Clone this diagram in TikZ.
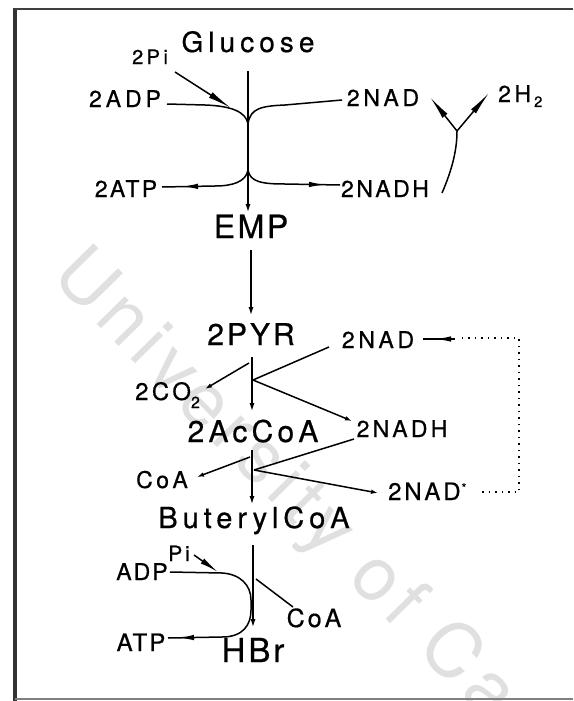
\documentclass[tikz,border=0pt]{standalone}
\usepackage{fontspec}
\setmainfont{TeX Gyre Heros}
\usetikzlibrary{arrows.meta,decorations.markings}
\newcommand\mylab[3]{\fontsize{#1}{#1}\selectfont\addfontfeature{LetterSpace=#2,FakeBold=0.6}#3}
\begin{document}
\begin{tikzpicture}[x=1pt,y=-1pt,
  lbl/.style={inner sep=0pt,anchor=base},
  lblw/.style={inner sep=0pt,anchor=base west},
  mainline/.style={line width=2.3pt,-{Latex[length=9pt,width=5pt]}},
  side/.style={line width=1.5pt},
  sidearrow/.style={line width=1.5pt,-{Latex[length=7pt,width=4.5pt]}},
  longarrow/.style={line width=1.5pt,-{Latex[length=24pt,width=6.5pt]}},
  shortlong/.style={line width=1.5pt,-{Latex[length=19pt,width=6pt]}},
  arrowat/.style={postaction={decorate},decoration={markings,mark=at position #1 with {\arrow{Latex[length=16pt,width=5.5pt]}}}},
  dotline/.style={line width=1.5pt,dash pattern=on 1.5pt off 5pt},
]
\fill[white] (0,0) rectangle (573,701);
\useasboundingbox (0,0) rectangle (573,701);
% watermark
\begin{scope}
\clip (0,0) rectangle (573,701);
\node[inner sep=0pt,anchor=base west,rotate=-45.5,text=black!12] (wm) at (50,277) {\fontsize{75}{75}\selectfont\addfontfeature{LetterSpace=10}University of Ca};
\end{scope}
% frame
\draw[line width=4pt,black!80] (15,8) -- (15,701);
\draw[line width=2pt,black!75] (14,9) -- (573,9);
\draw[line width=2pt,black!50] (15,699) -- (573,699);

% main labels
\node[lbl] (glucose) at (248,52) {\mylab{28}{18}{Glucose}};
\node[lbl] (emp) at (251,238) {\mylab{32}{8}{EMP}};
\node[lbl] (pyr) at (251,345) {\mylab{30}{10}{2PYR}};
\node[lbl] (accoa) at (253,442) {\mylab{30}{14}{2AcCoA}};
\node[lbl] (butcoa) at (254,528) {\mylab{29}{17}{ButerylCoA}};
\node[lbl] (hbr) at (253,662) {\mylab{33}{9}{HBr}};

% small labels
\node[lbl] (pi2) at (150,64) {\mylab{20}{17}{2Pi}};
\node[lbl] (adp2) at (125,107) {\mylab{23}{17}{2ADP}};
\node[lbl] (nadtop) at (383,106) {\mylab{23}{16}{2NAD}};
\node[lblw] (h2) at (498,102) {\mylab{23}{15}{2H}\hspace{3pt}\raisebox{-5pt}{\mylab{15}{0}{2}}};
\node[lbl] (nadhtop) at (385,197) {\mylab{23}{11}{2NADH}};
\node[lbl] (atp2) at (126,197) {\mylab{23}{10}{2ATP}};
\node[lbl] (nadmid) at (378,348) {\mylab{23}{16}{2NAD}};
\node[lblw] (co2) at (135,400) {\mylab{24}{14}{2CO}\raisebox{-8pt}{\mylab{16}{0}{2}}};
\node[lbl] (nadhmid) at (402,437) {\mylab{23}{14}{2NADH}};
\node[lbl] (coal) at (162,488) {\mylab{23}{15}{CoA}};
\node[lblw] (nadstar) at (388,500) {\mylab{24}{12}{2NAD}\hspace{1pt}\raisebox{8pt}{\mylab{12}{0}{*}}};
\node[lbl] (pib) at (179,561) {\mylab{21}{13}{Pi}};
\node[lbl] (adpb) at (142,580) {\mylab{23}{9}{ADP}};
\node[lbl] (coab) at (314,627) {\mylab{25}{12}{CoA}};
\node[lbl] (atpb) at (141,651) {\mylab{24}{9}{ATP}};

% ---- top section
\coordinate (v1a) at (248,71);
\coordinate (v1b) at (248,213);
\draw[mainline] (v1a) -- (v1b);
\coordinate (j1) at (248,124);
\coordinate (j2) at (248,170);
\coordinate (adpE) at (167,104);
\draw[side] (adpE) -- (205,105) .. controls (232,106) and (246,112) .. (j1);
\coordinate (piS) at (175,72);
\coordinate (piE) at (231,108);
\draw[longarrow] (piS) -- (piE);
\coordinate (nadT) at (342,100);
\draw[side] (j1) .. controls (250,108) and (262,106) .. (285,105) -- (nadT);
\coordinate (atpE) at (162,187);
\draw[side,arrowat=-20pt] (j2) .. controls (246,182) and (232,186) .. (215,186) -- (atpE);
\coordinate (nadhT) at (340,185);
\draw[side,arrowat=-15pt] (j2) .. controls (250,182) and (262,184) .. (285,184) -- (nadhT);
% hydrogenase
\coordinate (hS) at (442,193);
\coordinate (hJ) at (457,131);
\coordinate (hL) at (430,97);
\coordinate (hR) at (489,93);
\draw[side] (hS) .. controls (452,170) and (457,150) .. (hJ);
\draw[longarrow] (hJ) -- (hL);
\draw[longarrow] (hJ) -- (hR);

% ---- middle section
\coordinate (v2a) at (251,250);
\coordinate (v2b) at (251,316);
\draw[mainline] (v2a) -- (v2b);
\coordinate (v3a) at (252,357);
\coordinate (v3b) at (252,412);
\draw[mainline] (v3a) -- (v3b);
\coordinate (j3) at (253,380);
\coordinate (co2S) at (249,363);
\coordinate (co2E) at (205,389);
\draw[sidearrow] (co2S) -- (co2E);
\coordinate (nadmE) at (329,347);
\draw[side] (nadmE) -- (j3);
\coordinate (nadhmE) at (352,421);
\draw[sidearrow] (j3) -- (nadhmE);
\coordinate (v4a) at (252,450);
\coordinate (v4b) at (252,505);
\draw[mainline] (v4a) -- (v4b);
\coordinate (j4) at (254,470);
\coordinate (coaS) at (250,457);
\coordinate (coaE) at (197,477);
\draw[sidearrow] (coaS) -- (coaE);
\coordinate (nadhm2) at (354,439);
\draw[side] (nadhm2) -- (j4);
\coordinate (nadsE) at (378,493);
\draw[sidearrow] (j4) -- (nadsE);
% recycle
\coordinate (d1) at (482,492);
\coordinate (d2) at (519,492);
\coordinate (d3) at (519,338);
\coordinate (d4) at (457,338);
\draw[dotline] (d1) -- (d2) -- (d3) -- (d4);
\coordinate (r1) at (455,339);
\coordinate (r2) at (423,339);
\draw[side,arrowat=-12pt] (r1) -- (r2);

% ---- bottom section
\coordinate (v5a) at (253,545);
\coordinate (v5b) at (253,628);
\draw[mainline] (v5a) -- (v5b);
\coordinate (pbS) at (194,555);
\coordinate (pbE) at (218,572);
\draw[shortlong] (pbS) -- (pbE);
\coordinate (adpbE) at (170,572);
\coordinate (atpbE) at (168,638);
\draw[side,arrowat=-10pt] (adpbE) -- (222,573) .. controls (240,574) and (251,585) .. (251,600) -- (251,610) .. controls (251,625) and (243,637) .. (222,637) -- (atpbE);
\coordinate (cbS) at (256,579);
\coordinate (cbE) at (293,607);
\draw[side] (cbS) -- (cbE);
\end{tikzpicture}
\end{document}
